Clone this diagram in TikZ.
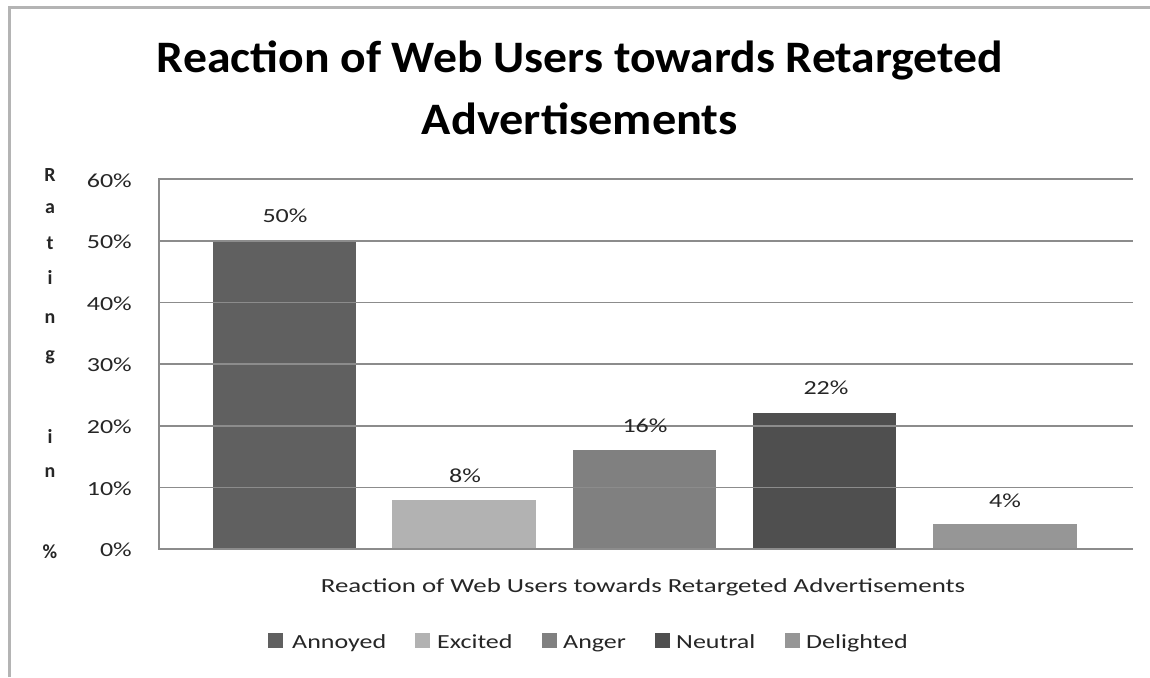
\documentclass[tikz,border=0pt]{standalone}
\usepackage{fontspec}
\setmainfont{Carlito}
\usepackage{graphicx}
\definecolor{framegray}{HTML}{B4B4B4}
\definecolor{gridgray}{HTML}{8C8C8C}
\definecolor{textgray}{HTML}{262626}
\definecolor{cannoyed}{HTML}{606060}
\definecolor{cexcited}{HTML}{B2B2B2}
\definecolor{canger}{HTML}{808080}
\definecolor{cneutral}{HTML}{4F4F4F}
\definecolor{cdelighted}{HTML}{969696}
\newcommand\hstr[1]{\scalebox{1.3}[1]{#1}}
\begin{document}
\begin{tikzpicture}[x=1pt,y=-1pt,
  gridline/.style={draw=gridgray,line width=1.6pt},
  framel/.style={draw=framegray,line width=3pt},
  lbl/.style={font=\fontsize{20}{24}\selectfont,text=textgray,inner sep=0pt},
  axtl/.style={font=\bfseries\fontsize{20}{24}\selectfont,text=textgray,inner sep=0pt,anchor=base},
  titl/.style={font=\bfseries\fontsize{45}{54}\selectfont,text=black,inner sep=0pt,anchor=base},
  legsq/.style={minimum size=15pt,inner sep=0pt,anchor=north west}]
\useasboundingbox (0,0) rectangle (1150,677);
\fill[white] (0,0) rectangle (1150,677);
% outer frame
\draw[framel] (9,677) -- (9,8) -- (1150,8);
% title
\node[titl] (t1) at (580,72) {\resizebox{846pt}{\height}{Reaction of Web Users towards Retargeted}};
\node[titl] (t2) at (580,134) {\resizebox{316pt}{\height}{Advertisements}};
% bars
\fill[cannoyed]   (213,240.7) rectangle (356,549);
\fill[cexcited]   (392,499.7) rectangle (536,549);
\fill[canger]     (573,450.3) rectangle (716,549);
\fill[cneutral]   (753,413.3) rectangle (896,549);
\fill[cdelighted] (933,524.3) rectangle (1077,549);
% gridlines
\foreach \yy in {179,240.7,302.3,364,425.7,487.3} {
  \draw[gridline] (159,\yy) -- (1133,\yy);
}
\draw[gridline] (159,549) -- (1133,549);
\draw[gridline] (159,178.2) -- (159,549.8);
% tick labels
\node[lbl,anchor=base east] (y60) at (132,187) {\hstr{60\%}};
\node[lbl,anchor=base east] (y50) at (132,248) {\hstr{50\%}};
\node[lbl,anchor=base east] (y40) at (132,310) {\hstr{40\%}};
\node[lbl,anchor=base east] (y30) at (132,371) {\hstr{30\%}};
\node[lbl,anchor=base east] (y20) at (132,433) {\hstr{20\%}};
\node[lbl,anchor=base east] (y10) at (132,495) {\hstr{10\%}};
\node[lbl,anchor=base east] (y0) at (132,556) {\hstr{0\%}};
% data labels
\node[lbl,anchor=base] (d1) at (285,222) {\hstr{50\%}};
\node[lbl,anchor=base] (d2) at (465,482) {\hstr{8\%}};
\node[lbl,anchor=base] (d3) at (645,432) {\hstr{16\%}};
\node[lbl,anchor=base] (d4) at (826,394) {\hstr{22\%}};
\node[lbl,anchor=base] (d5) at (1005,507) {\hstr{4\%}};
% y axis title (stacked letters)
\node[axtl] (a1) at (50,181) {R};
\node[axtl] (a2) at (50,213) {a};
\node[axtl] (a3) at (50,249) {t};
\node[axtl] (a4) at (50,284) {i};
\node[axtl] (a5) at (50,323) {n};
\node[axtl] (a6) at (50,360) {g};
\node[axtl] (a7) at (50,443) {i};
\node[axtl] (a8) at (50,477) {n};
\node[axtl] (a9) at (50,558) {\%};
% x axis title
\node[lbl,anchor=base] (xt) at (643,592) {\resizebox{644pt}{\height}{Reaction of Web Users towards Retargeted Advertisements}};
% legend
\node[legsq,fill=cannoyed]   (s1) at (268,633) {};
\node[lbl,anchor=base west] (l1) at (292,648) {\hstr{Annoyed}};
\node[legsq,fill=cexcited]   (s2) at (415,633) {};
\node[lbl,anchor=base west] (l2) at (437,648) {\hstr{Excited}};
\node[legsq,fill=canger]     (s3) at (542,633) {};
\node[lbl,anchor=base west] (l3) at (563,648) {\hstr{Anger}};
\node[legsq,fill=cneutral]   (s4) at (655,633) {};
\node[lbl,anchor=base west] (l4) at (676,648) {\hstr{Neutral}};
\node[legsq,fill=cdelighted] (s5) at (785,633) {};
\node[lbl,anchor=base west] (l5) at (806,648) {\hstr{Delighted}};
\end{tikzpicture}
\end{document}
